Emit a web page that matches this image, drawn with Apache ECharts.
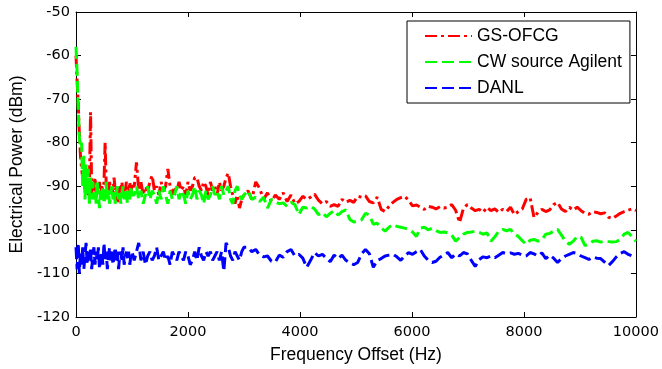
<!DOCTYPE html>
<html>
<head>
<meta charset="utf-8">
<script src="https://cdn.jsdelivr.net/npm/echarts@6/dist/echarts.min.js"></script>
<style>html,body{margin:0;padding:0;background:#fff}#c{width:662px;height:369px}</style>
</head>
<body>
<div id="c"></div>
<script>
// Frequency sampling segments (Hz): [start, stop, step]
const segLow = [0, 1000, 20];
const segMid = [1040, 3000, 40];
const segHigh = [3070, 10000, 70];

const seriesNames = ['GS-OFCG', 'CW source Agilent', 'DANL'];
const xTicks = [0, 2000, 4000, 6000, 8000, 10000];
const yTicks = [-120, -110, -100, -90, -80, -70, -60, -50];

// GS-OFCG (dBm)
const gsLow = [-60,-66,-71,-78,-83,-86,-88,-89,-91,-88,-90,-92,-89,-73,-91,-93,-90,-88,-92,-90,-91,-89,-92,-90,-91,-89,-80,-90,-91,-92,-89,-91,-90,-92,-88,-91,-90,-93,-94,-90,-91,-89,-92,-90,-91,-89,-90,-92,-89,-91,-90];
const gsMid = [-90,-84.5,-91,-89,-92,-90,-91,-89,-87.5,-91,-90,-92,-89,-91,-90,-86,-90,-92,-90,-91,-89,-91,-90,-92,-89,-91,-90,-88,-88,-90,-91,-89,-90,-92,-89,-91,-90,-92,-89,-91,-90,-88,-87,-90,-92,-94,-92,-95,-93,-92];
const gsHigh = [-91,-93,-89,-90.5,-93,-91.5,-93.5,-92,-93,-91.5,-93.5,-92,-94,-93.5,-92.3,-93,-92.5,-91.8,-93.2,-94,-93.5,-94.6,-94.2,-94.6,-93,-93.7,-93.2,-93.7,-92.3,-92.5,-92.2,-93.5,-93.8,-92.5,-95.3,-95.8,-94.6,-93.7,-93,-92.6,-92.3,-93.2,-94.5,-94.3,-94.8,-95.3,-94.6,-94.8,-95.2,-94.7,-95,-94.8,-94.2,-95.5,-98.3,-95,-94.2,-95,-95.6,-95.3,-96,-94.8,-95.6,-95.2,-96,-95.3,-95.8,-94.8,-96.5,-95.8,-95.2,-93,-92.6,-97.2,-96,-95.3,-95.8,-95.4,-94.2,-93.7,-95.2,-95.8,-94.8,-95.5,-94.8,-95.6,-96.2,-96.4,-95.8,-96,-96.3,-96.1,-97.1,-97.4,-96.8,-96.2,-95.8,-95.5,-95.2,-95.6];

// CW source Agilent (dBm)
const cwLow = [-58,-64,-72,-79,-81,-80,-90,-83,-93,-85,-92,-86,-94,-88,-93,-89,-93,-91,-94,-89,-92,-95,-91,-93,-90,-94,-92,-89,-93,-91,-94,-92,-90,-93,-91,-94,-92,-90,-93,-91,-94,-92,-90,-93,-91,-92,-94,-91,-93,-90,-92];
const cwMid = [-92,-90,-93,-91,-94,-92,-90,-93,-91,-92,-94,-91,-93,-90,-92,-94,-91,-93,-92,-90,-93,-91,-92,-94,-91,-93,-92,-90,-93,-91,-92,-94,-91,-93,-92,-90,-92,-91,-93,-90,-92,-91,-90,-93,-94,-91,-90,-92,-93,-92];
const cwHigh = [-91,-93,-92.5,-93.5,-92.5,-95,-93,-93.6,-94,-93.8,-94.6,-93.7,-94.2,-96.5,-94.8,-95,-94.6,-95.2,-96.5,-96,-97,-96.2,-95.6,-96.6,-95.8,-95.4,-97.6,-98.2,-98,-97.7,-96.2,-96.6,-98.7,-98.5,-99.5,-100.3,-99.4,-98.8,-99.2,-99.4,-99.6,-99.9,-100.5,-101.5,-99.6,-99.4,-100,-99.6,-100.2,-100.6,-100.5,-100.7,-101.2,-102.6,-101.8,-101,-100.6,-100.5,-100.3,-100.6,-101,-100.7,-102.6,-101.6,-100.3,-99.9,-100.2,-99.9,-101,-101.5,-102.5,-103.3,-102.4,-102.2,-102.6,-102.3,-101,-100.8,-100.3,-99.9,-101.2,-102.6,-103.3,-102.6,-101.5,-101.7,-103.6,-103.3,-102.6,-102.5,-102.8,-102.6,-102.7,-102.8,-102.7,-102.2,-101,-100.6,-101.6,-102.6];

// DANL (dBm)
const danlLow = [-104,-109,-103,-110,-105,-108,-104,-109,-106,-103,-108,-105,-107,-104,-109,-106,-104,-108,-105,-107,-104,-109,-106,-105,-108,-103,-107,-105,-109,-106,-104,-107,-105,-108,-106,-104,-107,-105,-109,-106,-105,-107,-104,-108,-106,-105,-107,-105,-108,-106,-105];
const danlMid = [-107,-105,-103,-107,-105,-108,-106,-105,-107,-106,-104,-107,-106,-105,-107,-106,-108,-105,-106,-107,-105,-106,-107,-105,-106,-108,-107,-105,-107,-104,-106,-107,-105,-106,-105,-107,-106,-105,-107,-105,-109.5,-103,-104,-106,-107,-105,-106,-107,-105,-104];
const danlHigh = [-104,-105,-104.5,-105.8,-106.2,-106,-107.2,-107.4,-105.8,-106.3,-105,-104.5,-106,-105.6,-106.5,-108.6,-107,-105.2,-106,-105.6,-106.5,-107.3,-105.8,-106.6,-105.8,-107,-107.6,-108,-107.5,-105.5,-104.5,-105.5,-108.6,-107,-106.6,-106,-105.8,-105.6,-106.2,-107,-106,-105.2,-105.6,-105,-104.5,-106,-107,-107.5,-107.2,-106.3,-105.8,-105.2,-106.4,-105.5,-106,-105.2,-105.5,-107,-108.4,-106.8,-106.2,-106.4,-106,-106.4,-105.8,-105.2,-105.5,-105.3,-105.6,-105.4,-105.8,-106,-105.2,-105.5,-106,-105.3,-106.6,-105.8,-106.5,-107.5,-106.6,-106,-105.6,-105.2,-105.4,-106,-106.4,-106.8,-106.2,-106.5,-106.6,-107.4,-108.2,-107.3,-106.2,-105.4,-105,-105.6,-106,-106.3];

function grid(seg) { const out = []; for (let f = seg[0]; f <= seg[1] + 1e-9; f += seg[2]) out.push(f); return out; }
const freqs = grid(segLow).concat(grid(segMid), grid(segHigh));
function pairs(a, b, c) { const v = a.concat(b, c); return freqs.map((f, i) => [f, v[i]]); }

const tickFont = { fontFamily: 'DejaVu Sans', fontSize: 14.5, color: '#000' };
const nameFont = { fontFamily: 'Liberation Sans', fontSize: 17.5, color: '#000' };
const axLine = { show: true, onZero: false, lineStyle: { color: '#000', width: 1 } };
const tick = { show: true, inside: true, length: 5, lineStyle: { color: '#000' } };
const plain = v => String(v);

const chart = echarts.init(document.getElementById('c'), null, { renderer: 'canvas' });
chart.setOption({
  animation: false,
  backgroundColor: '#fff',
  grid: { left: 74, right: 25, top: 12, bottom: 51, containLabel: false },
  legend: {
    orient: 'vertical', left: 407, top: 21,
    itemWidth: 47, itemHeight: 16, itemGap: 8,
    padding: [6, 8, 6, 17],
    borderColor: '#000', borderWidth: 1, backgroundColor: '#fff',
    itemStyle: { opacity: 0 },
    textStyle: nameFont,
    data: seriesNames
  },
  xAxis: [
    { type: 'value', min: xTicks[0], max: xTicks[xTicks.length - 1], interval: 2000, position: 'bottom',
      name: 'Frequency Offset (Hz)', nameLocation: 'middle', nameGap: 29, nameTextStyle: nameFont,
      axisLine: axLine, axisTick: tick, axisLabel: Object.assign({ margin: 8, formatter: plain }, tickFont), splitLine: { show: false } },
    { type: 'value', min: xTicks[0], max: xTicks[xTicks.length - 1], interval: 2000, position: 'top',
      axisLine: axLine, axisTick: tick, axisLabel: { show: false }, splitLine: { show: false } }
  ],
  yAxis: [
    { type: 'value', min: yTicks[0], max: yTicks[yTicks.length - 1], interval: 10, position: 'left',
      name: 'Electrical Power (dBm)', nameLocation: 'middle', nameGap: 50, nameTextStyle: nameFont,
      axisLine: axLine, axisTick: tick, axisLabel: Object.assign({ margin: 6, formatter: plain }, tickFont), splitLine: { show: false } },
    { type: 'value', min: yTicks[0], max: yTicks[yTicks.length - 1], interval: 10, position: 'right',
      axisLine: axLine, axisTick: tick, axisLabel: { show: false }, splitLine: { show: false } }
  ],
  series: [
    { name: seriesNames[0], type: 'line', symbol: 'none', data: pairs(gsLow, gsMid, gsHigh),
      color: '#ff0000', lineStyle: { color: '#ff0000', width: 3, type: [12, 4, 3, 4] } },
    { name: seriesNames[1], type: 'line', symbol: 'none', data: pairs(cwLow, cwMid, cwHigh),
      color: '#00ff00', lineStyle: { color: '#00ff00', width: 3, type: [12, 5] } },
    { name: seriesNames[2], type: 'line', symbol: 'none', data: pairs(danlLow, danlMid, danlHigh),
      color: '#0000ff', lineStyle: { color: '#0000ff', width: 3, type: [12, 5] } }
  ]
});
</script>
</body>
</html>
